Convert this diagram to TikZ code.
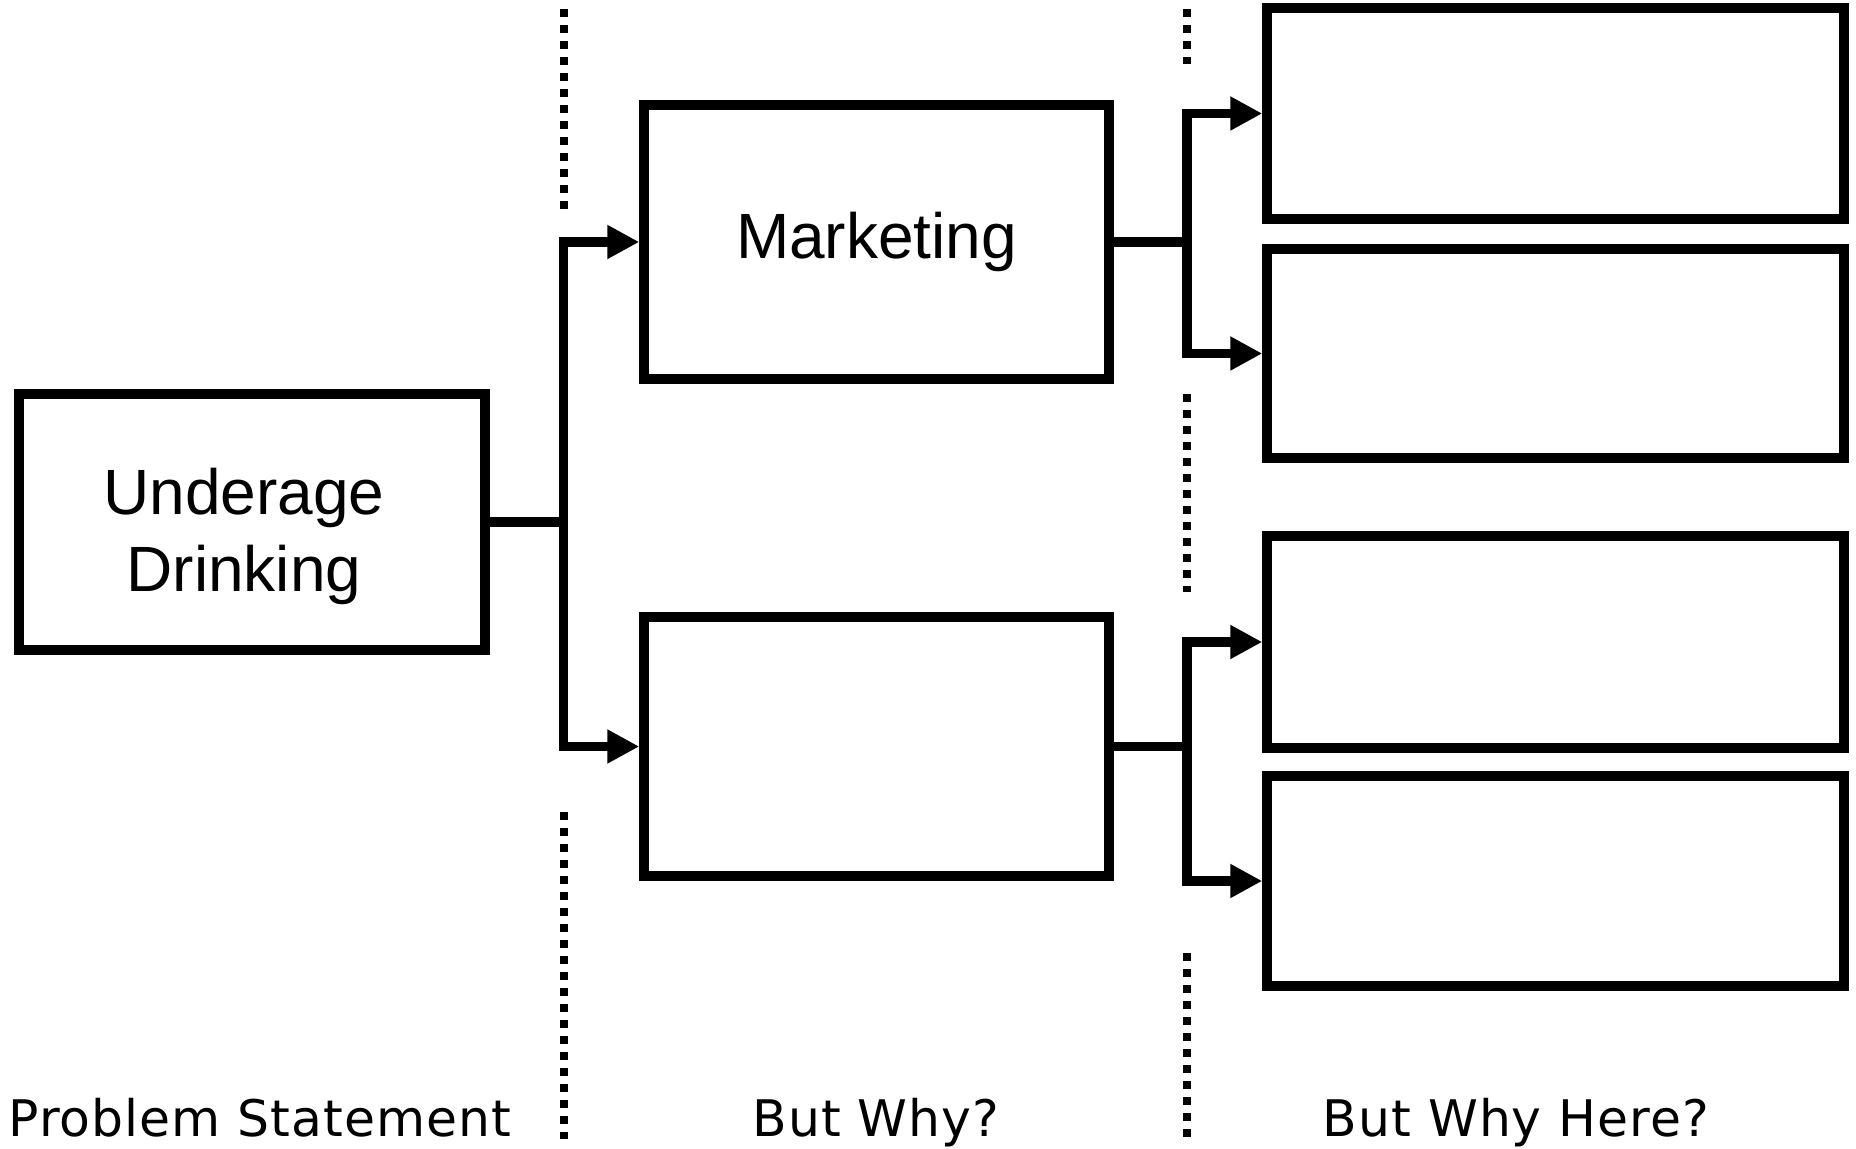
\documentclass[tikz,border=0pt]{standalone}
\usepackage{fontspec}
\setmainfont{Liberation Sans}
\newfontfamily\labfont[LetterSpace=2]{DejaVu Sans}
\usetikzlibrary{arrows.meta}
\begin{document}
\begin{tikzpicture}[x=0.5pt,y=-0.5pt,
  box/.style={draw, line width=4.75pt, inner sep=0pt, align=center, font=\fontsize{32}{38.5}\selectfont},
  conn/.style={line width=4.75pt},
  arr/.style={conn, -{Triangle[length=16pt,width=16pt]}},
  divider/.style={line width=4pt, dash pattern=on 4pt off 4pt},
  lab/.style={font=\labfont\fontsize{25.2}{30}\selectfont, anchor=base, inner sep=0pt}]
\useasboundingbox[fill=white] (0,0) rectangle (1856,1149);

\node[box, minimum width=233pt, minimum height=128pt, text height=75.7pt, text depth=6.7pt] (U) at (252,522) {Underage\hspace*{8pt}\\Drinking\hspace*{8pt}};
\node[box, minimum width=232.5pt, minimum height=137pt] (M1) at (876.5,242) {Marketing};
\node[box, minimum width=232.5pt, minimum height=129.5pt] (M2) at (876.5,746.5) {};
\node[box, minimum width=288.5pt, minimum height=105.5pt] (R1) at (1555.5,113.5) {};
\node[box, minimum width=288.5pt, minimum height=104.5pt] (R2) at (1555.5,353.5) {};
\node[box, minimum width=288.5pt, minimum height=106pt] (R3) at (1555.5,642) {};
\node[box, minimum width=288.5pt, minimum height=105pt] (R4) at (1555.5,881) {};

\coordinate (jL) at (563.5,522);
\coordinate (jR1) at (1187,242);
\coordinate (jR2) at (1187,746.5);

\draw[conn, line cap=rect] (U.east) -- (jL);
\draw[arr] (jL) |- (M1.west);
\draw[arr] (jL) |- (M2.west);
\draw[conn, line cap=rect] (M1.east) -- (jR1);
\draw[arr] (jR1) |- (R1.west);
\draw[arr] (jR1) |- (R2.west);
\draw[conn, line cap=rect] (M2.east) -- (jR2);
\draw[arr] (jR2) |- (R3.west);
\draw[arr] (jR2) |- (R4.west);

\draw[divider] (563.5,9) -- (563.5,210);
\draw[divider] (563.5,812) -- (563.5,1139);
\draw[divider] (1187,9) -- (1187,64);
\draw[divider] (1187,394) -- (1187,592);
\draw[divider] (1187,953) -- (1187,1139);

\node[lab] (l1) at (260,1136) {Problem Statement};
\node[lab] (l2) at (876,1136) {But Why?};
\node[lab] (l3) at (1516,1136) {But Why Here?};
\end{tikzpicture}
\end{document}
